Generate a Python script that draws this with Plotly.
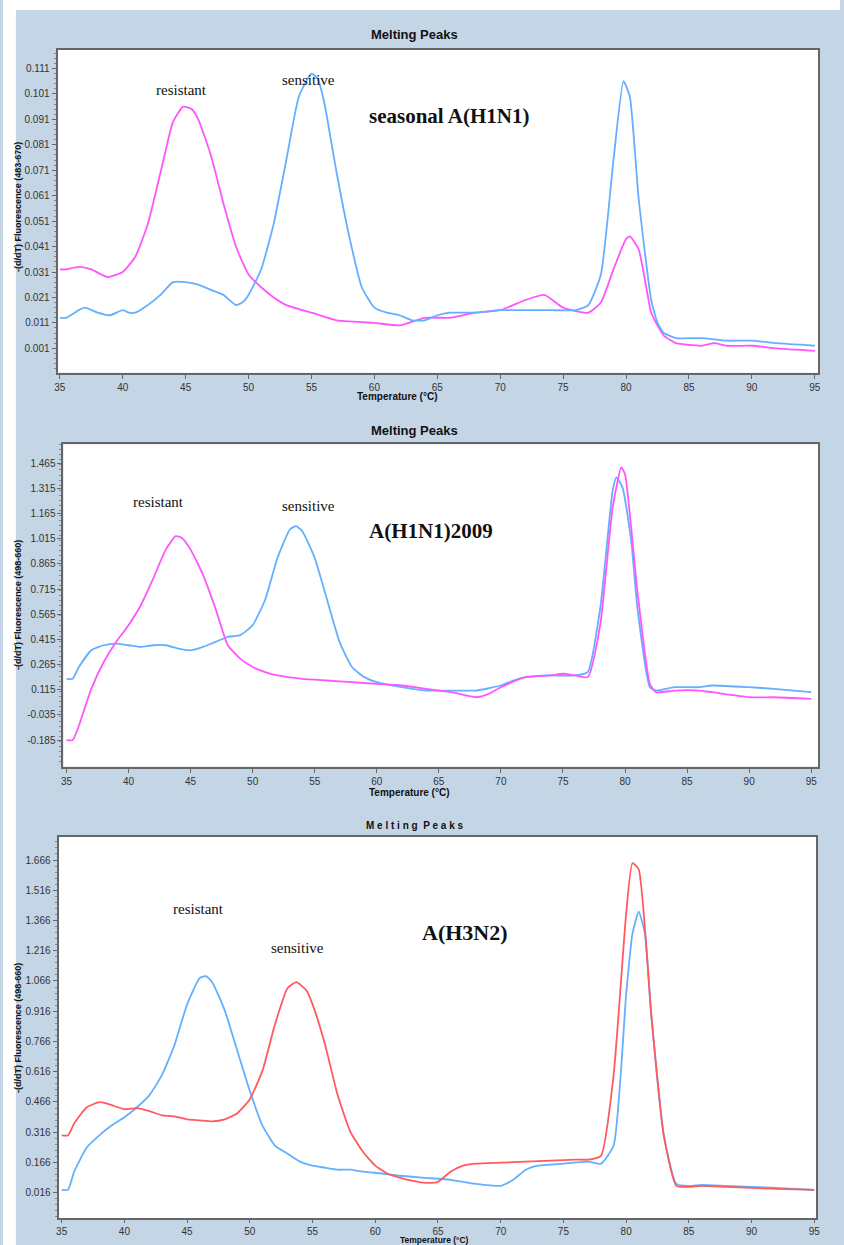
import plotly.graph_objects as go

# ---------------- data ----------------
# Panel 1: seasonal A(H1N1)
p1_res_T = [35, 35.5, 36.5, 37.5, 38.8, 40, 41, 42, 43, 44, 44.8, 45.5, 46, 47, 48, 49, 50, 51, 52, 53, 55, 57, 60, 62,
            64, 66, 68, 70, 72, 73.5, 75, 77, 78, 79, 80, 80.3, 81, 82, 82.5, 83, 84, 86, 87, 88, 90, 92, 95]
p1_res_v = [0.032, 0.032, 0.033, 0.032, 0.029, 0.031, 0.037, 0.050, 0.070, 0.090, 0.096, 0.095, 0.091, 0.077, 0.058,
            0.041, 0.030, 0.025, 0.021, 0.018, 0.015, 0.012, 0.011, 0.010, 0.013, 0.013, 0.015, 0.016, 0.020, 0.022,
            0.017, 0.015, 0.019, 0.032, 0.044, 0.045, 0.040, 0.015, 0.010, 0.006, 0.003, 0.002, 0.003, 0.002, 0.002,
            0.001, 0.000]
p1_sen_T = [35, 35.5, 36.5, 37, 38, 39, 40, 40.5, 41, 42, 43, 44, 45, 46, 47, 48, 49, 49.5, 50, 51, 52, 53, 54, 55,
            55.5, 56, 57, 58, 59, 60, 61, 62, 63, 64, 65, 66, 68, 70, 72, 74, 76, 77, 78, 79, 79.8, 80.3, 81, 82, 82.5,
            83, 84, 86, 88, 90, 92, 95]
p1_sen_v = [0.013, 0.013, 0.016, 0.017, 0.015, 0.014, 0.016, 0.015, 0.015, 0.018, 0.022, 0.027, 0.027, 0.026, 0.024,
            0.022, 0.018, 0.019, 0.022, 0.032, 0.050, 0.075, 0.100, 0.109, 0.107, 0.098, 0.070, 0.045, 0.025, 0.017,
            0.015, 0.014, 0.012, 0.012, 0.014, 0.015, 0.015, 0.016, 0.016, 0.016, 0.016, 0.018, 0.030, 0.075, 0.106,
            0.100, 0.060, 0.020, 0.011, 0.007, 0.005, 0.005, 0.004, 0.004, 0.003, 0.002]

# Panel 2: A(H1N1)2009
p2_res_T = [35, 35.5, 36, 37, 38, 39, 40, 41, 42, 43, 43.8, 44.3, 45, 46, 47, 48, 49, 50, 51, 52, 54, 56, 58, 60, 62,
            64, 66, 68, 69, 70, 72, 74, 75, 76, 77, 78, 79, 79.7, 80, 81, 82, 82.5, 84, 86, 87, 90, 92, 95]
p2_res_v = [-0.185, -0.185, -0.10, 0.12, 0.28, 0.40, 0.50, 0.62, 0.78, 0.95, 1.03, 1.02, 0.95, 0.80, 0.60, 0.38, 0.30,
            0.25, 0.22, 0.20, 0.18, 0.17, 0.16, 0.15, 0.14, 0.12, 0.10, 0.07, 0.09, 0.13, 0.19, 0.20, 0.21, 0.20, 0.19,
            0.50, 1.20, 1.44, 1.40, 0.70, 0.15, 0.10, 0.11, 0.11, 0.10, 0.07, 0.07, 0.06]
p2_sen_T = [35, 35.5, 36, 37, 38, 39, 40, 41, 42, 43, 44, 45, 46, 47, 48, 49, 50, 51, 52, 53, 53.5, 54, 55, 56, 57, 58,
            59, 60, 62, 64, 66, 68, 70, 71, 72, 74, 76, 77, 78, 79, 79.3, 79.8, 80.5, 81, 82, 82.5, 84, 86, 87, 90, 92,
            95]
p2_sen_v = [0.18, 0.18, 0.25, 0.35, 0.38, 0.39, 0.38, 0.37, 0.38, 0.38, 0.36, 0.35, 0.37, 0.40, 0.43, 0.44, 0.50, 0.65,
            0.90, 1.07, 1.09, 1.06, 0.90, 0.65, 0.40, 0.25, 0.19, 0.16, 0.13, 0.11, 0.11, 0.11, 0.14, 0.17, 0.19, 0.20,
            0.20, 0.22, 0.60, 1.30, 1.38, 1.32, 1.00, 0.60, 0.13, 0.11, 0.13, 0.13, 0.14, 0.13, 0.12, 0.10]

# Panel 3: A(H3N2)
p3_res_T = [35, 35.5, 36, 37, 38, 39, 40, 41, 42, 43, 44, 45, 46, 46.5, 47, 48, 49, 50, 51, 52, 53, 54, 55, 56, 57, 58,
            59, 60, 62, 64, 66, 68, 70, 71, 72, 73, 75, 77, 78, 79, 80, 80.5, 81, 81.5, 82, 83, 84, 85, 86, 88, 90, 92,
            95]
p3_res_v = [0.03, 0.03, 0.12, 0.24, 0.30, 0.35, 0.39, 0.44, 0.50, 0.60, 0.75, 0.95, 1.08, 1.09, 1.06, 0.92, 0.72, 0.52,
            0.35, 0.25, 0.21, 0.17, 0.15, 0.14, 0.13, 0.13, 0.12, 0.115, 0.10, 0.09, 0.08, 0.06, 0.05, 0.08, 0.13,
            0.15, 0.16, 0.17, 0.16, 0.25, 1.00, 1.30, 1.41, 1.30, 0.90, 0.30, 0.06, 0.05, 0.055, 0.05, 0.045, 0.04,
            0.03]
p3_sen_T = [35, 35.5, 36, 37, 38, 38.5, 39, 40, 41, 42, 43, 44, 45, 46, 47, 48, 49, 50, 51, 52, 53, 53.7, 54.5, 55, 56,
            57, 58, 59, 60, 61, 62, 63, 64, 65, 66, 67, 68, 70, 72, 74, 76, 77, 78, 79, 80, 80.5, 81, 82, 83, 84, 85,
            86, 88, 90, 92, 95]
p3_sen_v = [0.30, 0.30, 0.36, 0.44, 0.465, 0.46, 0.45, 0.43, 0.435, 0.42, 0.40, 0.395, 0.38, 0.375, 0.37, 0.38, 0.41,
            0.48, 0.62, 0.85, 1.03, 1.06, 1.02, 0.95, 0.75, 0.50, 0.32, 0.22, 0.15, 0.11, 0.09, 0.075, 0.065, 0.07,
            0.12, 0.15, 0.16, 0.165, 0.17, 0.175, 0.18, 0.18, 0.20, 0.60, 1.40, 1.65, 1.62, 0.90, 0.30, 0.05, 0.045,
            0.05, 0.045, 0.04, 0.035, 0.03]

x_ticks = [35, 40, 45, 50, 55, 60, 65, 70, 75, 80, 85, 90, 95]
p1_yticks = [0.001, 0.011, 0.021, 0.031, 0.041, 0.051, 0.061, 0.071, 0.081, 0.091, 0.101, 0.111]
p2_yticks = [-0.185, -0.035, 0.115, 0.265, 0.415, 0.565, 0.715, 0.865, 1.015, 1.165, 1.315, 1.465]
p3_yticks = [0.016, 0.166, 0.316, 0.466, 0.616, 0.766, 0.916, 1.066, 1.216, 1.366, 1.516, 1.666]

MAGENTA = "rgb(255,85,255)"
BLUE = "rgb(100,175,255)"
RED = "rgb(255,90,95)"

W, H = 844, 1245


def xdom(l, r):
    return [l / W, r / W]


def ydom(top, bot):
    return [1 - bot / H, 1 - top / H]


fig = go.Figure()
line_kw = dict(width=1.8)
fig.add_trace(go.Scatter(x=p1_res_T, y=p1_res_v, mode="lines", line=dict(color=MAGENTA, shape="spline", smoothing=0.5, **line_kw), xaxis="x", yaxis="y"))
fig.add_trace(go.Scatter(x=p1_sen_T, y=p1_sen_v, mode="lines", line=dict(color=BLUE, shape="spline", smoothing=0.5, **line_kw), xaxis="x", yaxis="y"))
fig.add_trace(go.Scatter(x=p2_sen_T, y=p2_sen_v, mode="lines", line=dict(color=BLUE, shape="spline", smoothing=0.5, **line_kw), xaxis="x2", yaxis="y2"))
fig.add_trace(go.Scatter(x=p2_res_T, y=p2_res_v, mode="lines", line=dict(color=MAGENTA, shape="spline", smoothing=0.5, **line_kw), xaxis="x2", yaxis="y2"))
fig.add_trace(go.Scatter(x=p3_res_T, y=p3_res_v, mode="lines", line=dict(color=BLUE, shape="spline", smoothing=0.5, **line_kw), xaxis="x3", yaxis="y3"))
fig.add_trace(go.Scatter(x=p3_sen_T, y=p3_sen_v, mode="lines", line=dict(color=RED, shape="spline", smoothing=0.5, **line_kw), xaxis="x3", yaxis="y3"))

tickfont = dict(family="Liberation Sans, Arial", size=10, color="#333333")
ax_common = dict(showgrid=False, zeroline=False, showline=True, mirror=True, linecolor="#666666", linewidth=2,
                 ticks="outside", tickcolor="#666666", tickfont=tickfont)


def xax(dom, rng, anchor, tlen=4):
    return dict(domain=xdom(*dom), range=rng, anchor=anchor, tickmode="array", tickvals=x_ticks,
                ticktext=[str(v) for v in x_ticks], ticklen=tlen, **ax_common)


def yax(dom, rng, anchor, vals, fmt, mdt, m0):
    return dict(domain=ydom(*dom), range=rng, anchor=anchor, tickmode="array", tickvals=vals,
                ticktext=[fmt.format(v) for v in vals], ticklen=4,
                minor=dict(ticks="outside", ticklen=2, tickcolor="#888888", tickmode="linear", tick0=m0, dtick=mdt),
                **ax_common)


fig.update_layout(
    width=W, height=H, margin=dict(l=0, r=0, t=0, b=0),
    paper_bgcolor="#c4d5e6", plot_bgcolor="white", showlegend=False,
    xaxis=xax((55, 822), [34.82, 95.27], "y"),
    yaxis=yax((49.5, 372.7), [-0.00859, 0.11847], "x", p1_yticks, "{:.3f}", 0.002, 0.001),
    xaxis2=xax((61, 822), [34.76, 95.56], "y2"),
    yaxis2=yax((444.3, 766.7), [-0.344, 1.578], "x2", p2_yticks, "{:.3f}", 0.03, 0.015),
    xaxis3=xax((56, 820), [34.75, 95.15], "y3", tlen=3),
    yaxis3=yax((836.7, 1218), [-0.1095, 1.7816], "x3", p3_yticks, "{:.3f}", 0.03, 0.016),
)

# white border strips (left and top)
fig.add_shape(type="rect", xref="paper", yref="paper", x0=0, x1=13 / W, y0=0, y1=1, fillcolor="white", line_width=0, layer="below")
fig.add_shape(type="rect", xref="paper", yref="paper", x0=0, x1=1, y0=1 - 10 / H, y1=1, fillcolor="white", line_width=0, layer="below")

serif = "Liberation Serif, Times New Roman"
sans = "Liberation Sans, Arial"


def pa(x, y, text, size, family, bold=False, angle=0, color="#111111"):
    fig.add_annotation(xref="paper", yref="paper", x=x / W, y=1 - y / H, text=("<b>%s</b>" % text) if bold else text,
                       showarrow=False, textangle=angle, xanchor="center", yanchor="middle",
                       font=dict(family=family, size=size, color=color))


# panel titles
pa(415, 34, "Melting Peaks", 13, sans, bold=True)
pa(415, 430, "Melting Peaks", 13, sans, bold=True)
pa(415, 825, "M e l t i n g  P e a k s", 10, sans, bold=True)

# x-axis titles
pa(398, 397, "Temperature (\u00b0C)", 10, sans, bold=True)
pa(410, 792, "Temperature (\u00b0C)", 10, sans, bold=True)
pa(435, 1240, "Temperature (\u00b0C)", 8.5, sans, bold=True)

# y-axis titles
pa(15, 207, "-(d/dT) Fluorescence (483-670)", 9, sans, bold=True, angle=-90)
pa(15, 605, "-(d/dT) Fluorescence (498-660)", 9, sans, bold=True, angle=-90)
pa(15, 1028, "-(d/dT) Fluorescence (498-660)", 9, sans, bold=True, angle=-90)

# curve labels
pa(180, 90, "resistant", 15, serif)
pa(308, 80, "sensitive", 15, serif)
pa(450, 116, "seasonal A(H1N1)", 21, serif, bold=True)

pa(157, 502, "resistant", 15, serif)
pa(308, 506, "sensitive", 15, serif)
pa(432, 531, "A(H1N1)2009", 21, serif, bold=True)

pa(197, 909, "resistant", 15, serif)
pa(297, 948, "sensitive", 15, serif)
pa(466, 932, "A(H3N2)", 22, serif, bold=True)

fig.write_html("out.html", config={"displayModeBar": False},
               post_script="document.body.style.margin='0';document.body.style.overflow='hidden';")
